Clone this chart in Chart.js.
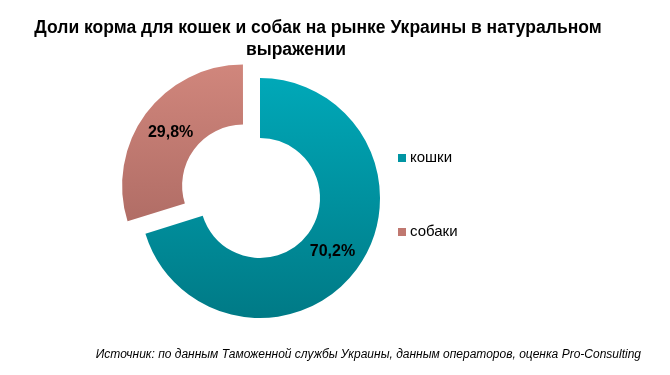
<!DOCTYPE html>
<html>
<head>
<meta charset="utf-8">
<script src="https://cdn.jsdelivr.net/npm/chart.js@4.4.1/dist/chart.umd.min.js"></script>
<style>
  html, body { margin: 0; padding: 0; background: #fff; }
  #wrap { width: 670px; height: 375px; }
</style>
</head>
<body>
<div id="wrap"><canvas id="feedChart" width="670" height="375"></canvas></div>
<script>
// Data
const titleLines = ['Доли корма для кошек и собак на рынке Украины в натуральном', 'выражении'];
const labels = ['кошки', 'собаки'];
const shares = [70.2, 29.8];
const pctLabels = ['70,2%', '29,8%'];
const sourceNote = 'Источник: по данным Таможенной службы Украины, данным операторов, оценка Pro-Consulting';

// top / bottom colours of the vertical gradient for each slice
const topColors = ['#00a8b8', '#d0867c'];
const bottomColors = ['#007a86', '#a0605a'];
const legendColors = ['#0095a3', '#c07870'];

// chart.js v4 moves an arc by a quarter of its offset
const explode = 21;

function sliceFill(ctx) {
  const chart = ctx.chart;
  const area = chart.chartArea;
  const i = ctx.dataIndex;
  if (!area) return topColors[i];
  const cy = (area.top + area.bottom) / 2;
  const g = chart.ctx.createLinearGradient(0, cy - 120, 0, cy + 120);
  g.addColorStop(0, topColors[i]);
  g.addColorStop(1, bottomColors[i]);
  return g;
}

// titles, legend, value labels, source note
const extras = {
  id: 'extras',
  afterDraw(chart) {
    const c = chart.ctx;
    c.save();
    c.fillStyle = '#000';
    c.textBaseline = 'alphabetic';
    c.textAlign = 'center';
    c.font = 'bold 17.5px "Liberation Sans", Arial, sans-serif';
    c.fillText(titleLines[0], 318, 33);
    c.fillText(titleLines[1], 296, 55);

    // value labels
    const meta = chart.getDatasetMeta(0);
    c.font = 'bold 16px "Liberation Sans", Arial, sans-serif';
    c.textBaseline = 'middle';
    meta.data.forEach((arc, i) => {
      const p = arc.getProps(['x', 'y', 'startAngle', 'endAngle', 'innerRadius', 'outerRadius'], true);
      const mid = (p.startAngle + p.endAngle) / 2;
      const off = chart.data.datasets[0].offset[i] / 4;
      const r = (p.innerRadius + p.outerRadius) / 2;
      const x = p.x + Math.cos(mid) * (r + off);
      const y = p.y + Math.sin(mid) * (r + off);
      c.fillText(pctLabels[i], x, y);
    });

    // legend
    c.textAlign = 'left';
    c.font = '15px "Liberation Sans", Arial, sans-serif';
    const ly = [158, 232];
    labels.forEach((lab, i) => {
      c.fillStyle = legendColors[i];
      c.fillRect(398, ly[i] - 4, 8, 8);
      c.fillStyle = '#000';
      c.fillText(lab, 410, ly[i]);
    });

    // source
    c.textAlign = 'right';
    c.textBaseline = 'middle';
    c.font = 'italic 12px "Liberation Sans", Arial, sans-serif';
    c.fillText(sourceNote, 641, 355);
    c.restore();
  }
};

new Chart('feedChart', {
  type: 'doughnut',
  data: {
    labels: labels,
    datasets: [{
      data: shares,
      backgroundColor: sliceFill,
      borderWidth: 0,
      offset: [0, explode * 4],
      hoverOffset: 0
    }]
  },
  options: {
    responsive: false,
    animation: false,
    radius: 120,
    cutout: '50%',
    layout: { padding: { left: 130, right: 280, top: 68, bottom: 47 } },
    plugins: {
      legend: { display: false },
      title: { display: false },
      tooltip: { enabled: false }
    }
  },
  plugins: [extras]
});
</script>
</body>
</html>
